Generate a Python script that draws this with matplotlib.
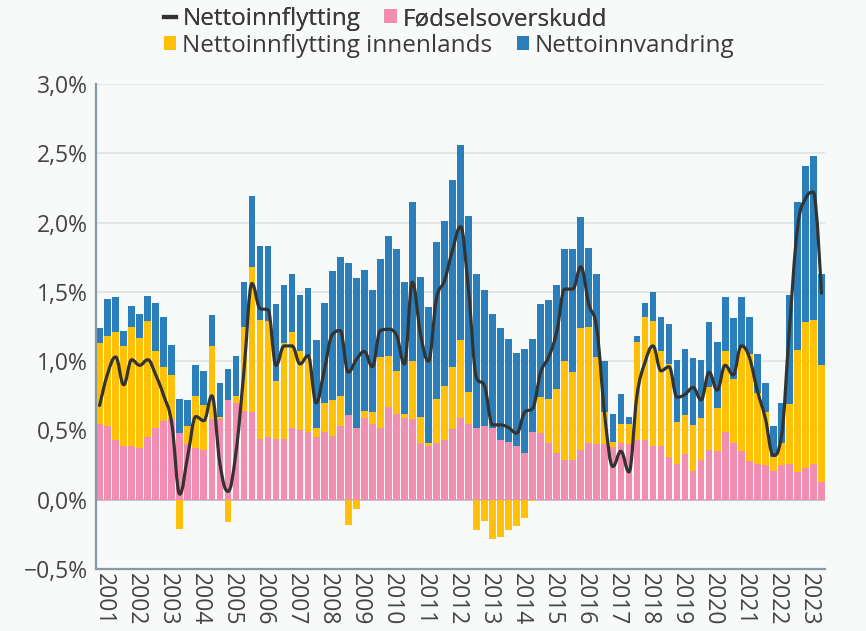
import numpy as np
import matplotlib
matplotlib.use("Agg")
import matplotlib.pyplot as plt
from matplotlib.path import Path
from matplotlib.patches import PathPatch, Patch
from matplotlib.lines import Line2D

# Quarterly data, 2001 Q1 - 2023 Q3 (percent)
years = list(range(2001, 2024))

fodselsoverskudd = [
    0.55, 0.53, 0.43, 0.39, 0.39, 0.37, 0.45, 0.52, 0.57, 0.58,
    0.48, 0.40, 0.37, 0.36, 0.58, 0.58, 0.72, 0.70, 0.64, 0.63,
    0.44, 0.45, 0.44, 0.44, 0.52, 0.50, 0.49, 0.45, 0.49, 0.46,
    0.53, 0.61, 0.52, 0.59, 0.55, 0.52, 0.67, 0.62, 0.59, 0.58,
    0.41, 0.39, 0.41, 0.43, 0.51, 0.59, 0.55, 0.52, 0.53, 0.52,
    0.43, 0.42, 0.39, 0.34, 0.49, 0.48, 0.41, 0.34, 0.29, 0.29,
    0.36, 0.41, 0.40, 0.40, 0.38, 0.41, 0.40, 0.43, 0.43, 0.39,
    0.39, 0.31, 0.26, 0.33, 0.21, 0.29, 0.36, 0.35, 0.49, 0.41,
    0.35, 0.28, 0.26, 0.25, 0.21, 0.25, 0.26, 0.20, 0.23, 0.26,
    0.13,
]

innenlands = [
    0.58, 0.65, 0.78, 0.72, 0.86, 0.80, 0.84, 0.55, 0.39, 0.32,
    -0.21, 0.13, 0.38, 0.32, 0.53, 0.02, -0.16, 0.05, 0.61, 1.05,
    0.86, 0.84, 0.42, 0.69, 0.69, 0.57, 0.55, 0.07, 0.21, 0.26,
    0.22, -0.18, -0.07, 0.05, 0.08, 0.51, 0.37, 0.31, 0.03, 0.42,
    0.19, 0.02, 0.32, 0.39, 0.45, 0.56, 0.23, -0.22, -0.15, -0.28,
    -0.27, -0.22, -0.19, -0.13, -0.01, 0.26, 0.32, 0.46, 0.71, 0.63,
    0.88, 0.84, 0.63, 0.23, 0.04, 0.14, 0.15, 0.71, 0.89, 0.90,
    0.68, 0.67, 0.30, 0.28, 0.33, 0.30, 0.45, 0.31, 0.58, 0.46,
    0.75, 0.77, 0.51, 0.38, 0.10, 0.16, 0.43, 0.88, 1.05, 1.04,
    0.84,
]

innvandring = [
    0.11, 0.27, 0.25, 0.11, 0.15, 0.17, 0.18, 0.35, 0.36, 0.22,
    0.25, 0.19, 0.22, 0.25, 0.22, 0.24, 0.22, 0.29, 0.32, 0.51,
    0.53, 0.54, 0.55, 0.42, 0.42, 0.41, 0.49, 0.63, 0.72, 0.93,
    1.00, 1.10, 1.08, 1.02, 0.88, 0.71, 0.86, 0.88, 0.95, 1.15,
    1.01, 0.98, 1.13, 1.19, 1.35, 1.41, 1.27, 1.11, 0.98, 0.82,
    0.81, 0.74, 0.67, 0.75, 0.67, 0.67, 0.71, 0.75, 0.81, 0.89,
    0.80, 0.57, 0.60, 0.37, 0.20, 0.21, 0.05, 0.04, 0.10, 0.21,
    0.25, 0.29, 0.45, 0.48, 0.48, 0.42, 0.47, 0.48, 0.39, 0.44,
    0.36, 0.27, 0.28, 0.21, 0.22, 0.29, 0.79, 1.07, 1.13, 1.18,
    0.66,
]

nettoinnflytting = [
    0.68, 0.91, 1.03, 0.83, 1.01, 0.97, 1.01, 0.90, 0.75, 0.55,
    0.04, 0.32, 0.60, 0.57, 0.75, 0.26, 0.06, 0.34, 0.93, 1.56,
    1.38, 1.37, 0.97, 1.11, 1.11, 0.98, 1.04, 0.70, 0.93, 1.19,
    1.22, 0.92, 1.01, 1.07, 0.96, 1.22, 1.23, 1.19, 0.98, 1.57,
    1.20, 1.00, 1.45, 1.58, 1.80, 1.97, 1.51, 0.88, 0.82, 0.54,
    0.54, 0.52, 0.48, 0.63, 0.66, 0.92, 1.03, 1.21, 1.52, 1.52,
    1.68, 1.41, 1.23, 0.60, 0.24, 0.35, 0.20, 0.75, 0.99, 1.11,
    0.93, 0.96, 0.74, 0.76, 0.81, 0.72, 0.92, 0.79, 0.97, 0.90,
    1.11, 1.03, 0.79, 0.59, 0.32, 0.45, 1.22, 1.95, 2.17, 2.22,
    1.49,
]

labels = ["Nettoinnflytting", "Fødselsoverskudd",
          "Nettoinnflytting innenlands", "Nettoinnvandring"]

PINK = "#f38db2"
YELLOW = "#ffc107"
BLUE = "#2a7fba"
LINE = "#333333"
BG = "#f8f9f9"
TXT = "#444444"

plt.rcParams["font.family"] = ["Open Sans", "DejaVu Sans"]

fig = plt.figure(figsize=(8.66, 6.31), dpi=100, facecolor=BG)
ax = fig.add_axes([96 / 866, 1 - 569 / 631, 729 / 866, (569 - 84) / 631])
ax.set_facecolor(BG)

x = np.arange(len(fodselsoverskudd))
pos = np.zeros(len(x))
neg = np.zeros(len(x))
for vals, col in [(fodselsoverskudd, PINK), (innenlands, YELLOW), (innvandring, BLUE)]:
    v = np.array(vals)
    bottom = np.where(v >= 0, pos, neg)
    ax.bar(x, v, bottom=bottom, width=0.84, color=col, linewidth=0, zorder=2)
    pos = np.where(v >= 0, pos + v, pos)
    neg = np.where(v < 0, neg + v, neg)


def hc_spline(xs, ys):
    n = len(xs)
    lc = [None] * n
    rc = [None] * n
    sm, den = 1.5, 2.5
    for i in range(1, n - 1):
        lx, ly = xs[i - 1], ys[i - 1]
        nx, ny = xs[i + 1], ys[i + 1]
        px, py = xs[i], ys[i]
        lcx = (sm * px + lx) / den
        lcy = (sm * py + ly) / den
        rcx = (sm * px + nx) / den
        rcy = (sm * py + ny) / den
        corr = ((rcy - lcy) * (rcx - px)) / (rcx - lcx) + py - rcy
        lcy += corr
        rcy += corr
        if lcy > ly and lcy > py:
            lcy = max(ly, py)
            rcy = 2 * py - lcy
        elif lcy < ly and lcy < py:
            lcy = min(ly, py)
            rcy = 2 * py - lcy
        if rcy > ny and rcy > py:
            rcy = max(ny, py)
            lcy = 2 * py - rcy
        elif rcy < ny and rcy < py:
            rcy = min(ny, py)
            lcy = 2 * py - rcy
        lc[i] = (lcx, lcy)
        rc[i] = (rcx, rcy)
    verts = [(xs[0], ys[0])]
    codes = [Path.MOVETO]
    for i in range(1, n):
        c1 = rc[i - 1] if rc[i - 1] is not None else (xs[i - 1], ys[i - 1])
        c2 = lc[i] if lc[i] is not None else (xs[i], ys[i])
        verts += [c1, c2, (xs[i], ys[i])]
        codes += [Path.CURVE4] * 3
    return Path(verts, codes)


path = hc_spline(list(x.astype(float)), nettoinnflytting)
ax.add_patch(PathPatch(path, facecolor="none", edgecolor=LINE, lw=2.3,
                       zorder=4, capstyle="round", joinstyle="round"))

ax.set_xlim(-0.45, len(x) - 0.55)
ax.set_ylim(-0.5, 3.0)
yt = np.arange(-0.5, 3.01, 0.5)
ax.set_yticks(yt)
ax.set_yticklabels([("−" if v < 0 else "") + f"{abs(v):.1f}".replace(".", ",") + "%" for v in yt])
ax.yaxis.grid(True, color="#dfe4e8", lw=1.3, zorder=0)
ax.axhline(0, color="#b8c0c6", lw=1.3, zorder=1)
ax.set_axisbelow(True)

ax.set_xticks([4 * k + 0.5 for k in range(len(years))])
ax.set_xticklabels([str(yv) for yv in years], rotation=-90, va="top", ha="center")
ax.tick_params(axis="both", length=0, colors=TXT, labelsize=16.5)
ax.tick_params(axis="x", pad=3)
ax.tick_params(axis="y", pad=6)

for s in ["top", "right"]:
    ax.spines[s].set_visible(False)
ax.spines["left"].set_color("#8a99a6")
ax.spines["left"].set_linewidth(1.6)
ax.spines["bottom"].set_color("#8a99a6")
ax.spines["bottom"].set_linewidth(1.6)

h_line = Line2D([0], [0], color=LINE, lw=3)
h_pink = Patch(facecolor=PINK)
h_yel = Patch(facecolor=YELLOW)
h_blue = Patch(facecolor=BLUE)

common = dict(frameon=False, fontsize=17.5, handlelength=0.5, handleheight=0.5,
              handletextpad=0.25, columnspacing=1.0, labelcolor="#3a3a3a",
              borderaxespad=0, borderpad=0)
leg1 = fig.legend([h_line, h_pink], [labels[0], labels[1]], ncol=2,
                  loc="upper left", bbox_to_anchor=(164 / 866, 1 - 7 / 631), **common)
fig.add_artist(leg1)
leg2 = fig.legend([h_yel, h_blue], [labels[2], labels[3]], ncol=2,
                  loc="upper left", bbox_to_anchor=(164 / 866, 1 - 34 / 631), **common)

fig.savefig("out.png", dpi=100, facecolor=BG)
